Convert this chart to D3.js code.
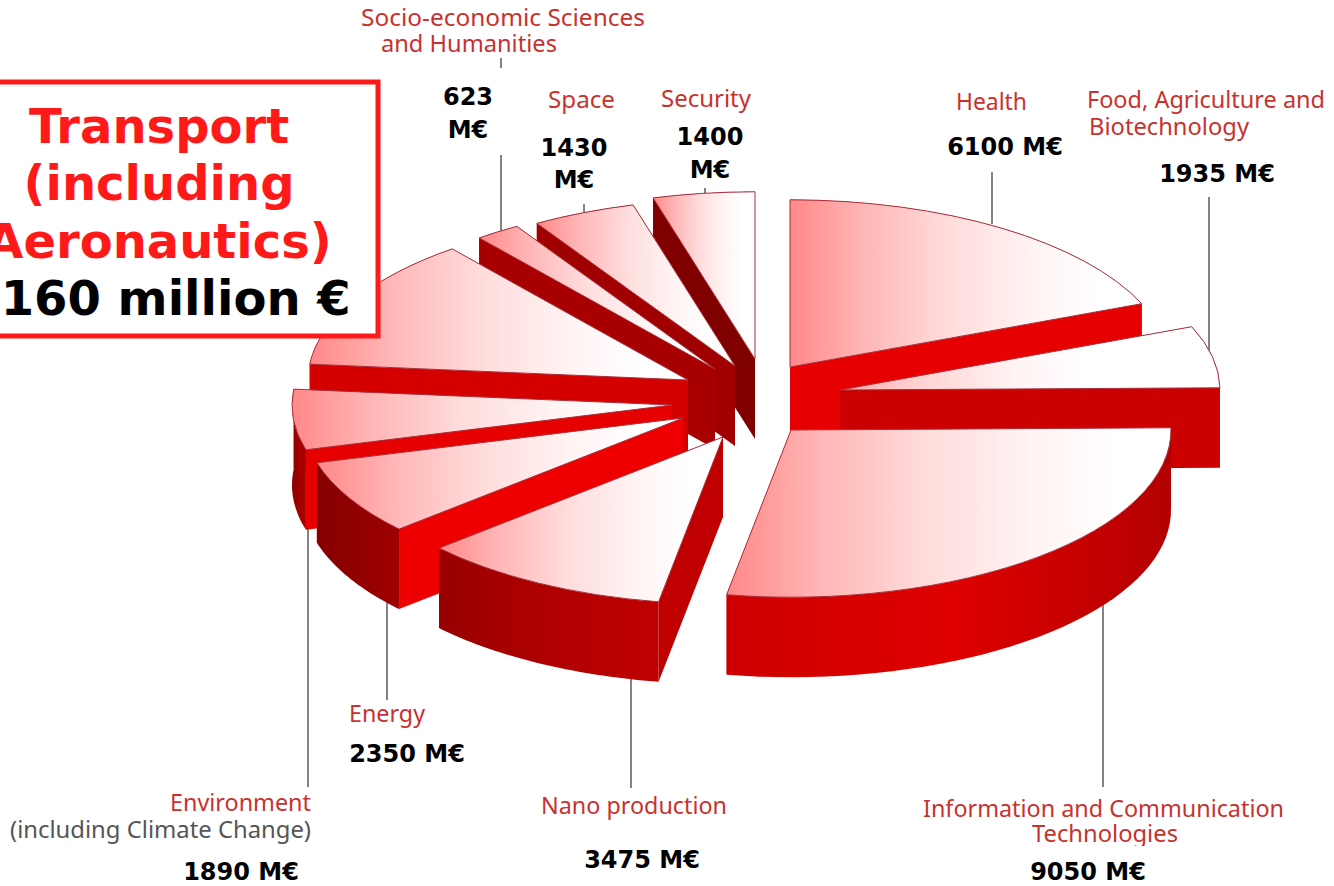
<!DOCTYPE html>
<html>
<head>
<meta charset="utf-8">
<script src="https://cdn.jsdelivr.net/npm/d3@7"></script>
<style>
  body { margin: 0; background: #fff; }
  svg { display: block; }
</style>
</head>
<body>
<div id="chart"></div>
<script>
const categories = ['Health', 'Food', 'ICT', 'Nano', 'Energy', 'Environment', 'Transport', 'Socio', 'Space', 'Security'];
const values = [6100, 1935, 9050, 3475, 2350, 1890, 4160, 623, 1430, 1400];

// how far each slice is pulled out of the pie
const explodeX = [40, 90, 41, -27, -67, -78, -62, -35, -15, 5];
const explodeY = [-33, -10, 30, 37, 18, 5, -20, -31, -34, -41];

// back to front
const drawOrder = ['Security', 'Space', 'Socio', 'Transport', 'Environment', 'Energy', 'Nano', 'Health', 'Food', 'ICT'];

const wallColors = ['#e60000', '#cc0000', '#cc0000', '#c00000', '#ee0000', '#e60000', '#d40000', '#a80000', '#a00000', '#800000'];
const bandColors = [
  ['#e60000', '#e60000', '#e60000'],
  ['#cc0000', '#cc0000', '#cc0000'],
  ['#cc0000', '#e00000', '#b40000'],
  ['#980000', '#b00000', '#c00000'],
  ['#860000', '#920000', '#a00000'],
  ['#900000', '#a00000', '#a80000'],
  ['#d40000', '#d40000', '#d40000'],
  ['#a80000', '#a80000', '#a80000'],
  ['#a00000', '#a00000', '#a00000'],
  ['#800000', '#800000', '#800000']
];

const labelLines = [
  ['Socio-economic Sciences', 361, 26, 284],
  ['and Humanities', 381, 52, 176],
  ['Space', 548, 108, 67],
  ['Security', 661, 107, 90],
  ['Health', 956, 110, 71],
  ['Food, Agriculture and', 1087, 108, 238],
  ['Biotechnology', 1089, 135, 160],
  ['Energy', 349, 722, 76],
  ['Environment', 170, 811, 141],
  ['Nano production', 541, 814, 186],
  ['Information and Communication', 923, 817, 361],
  ['Technologies', 1032, 842, 146]
];

const valueLines = [
  ['623', 468, 105], ['M€', 468, 138],
  ['1430', 574, 156], ['M€', 574, 188],
  ['1400', 710, 145], ['M€', 710, 178],
  ['6100 M€', 1005, 155],
  ['1935 M€', 1217, 182],
  ['2350 M€', 407, 762],
  ['1890 M€', 241, 880],
  ['3475 M€', 642, 868],
  ['9050 M€', 1088, 880]
];

const leaders = [
  [501, 58, 68], [501, 155, 232], [584, 204, 212], [705, 188, 198],
  [992, 172, 224], [1209, 197, 352], [1103, 600, 787],
  [631, 675, 788], [387, 600, 700], [308, 520, 787]
];

const width = 1334;
const height = 886;
const cx = 750;
const cy = 400;
const radius = 380;
const squash = 0.44;
const depth = 80;

const svg = d3.select('#chart')
  .append('svg')
  .attr('width', width)
  .attr('height', height);

const defs = svg.append('defs');

svg.selectAll('.leader')
  .data(leaders)
  .enter()
  .append('line')
  .attr('class', 'leader')
  .attr('x1', d => d[0])
  .attr('x2', d => d[0])
  .attr('y1', d => d[1])
  .attr('y2', d => d[2])
  .attr('stroke', '#5a5a5a')
  .attr('stroke-width', 1.5);

const pie = d3.pie().sort(null);
const arcs = pie(values);
const arcPath = d3.arc().innerRadius(0).outerRadius(radius);
const line = d3.line();

arcs.forEach((a, i) => {
  a.name = categories[i];
  a.ox = cx + explodeX[i];
  a.oy = cy + explodeY[i];
  a.index = i;
});

const project = (a, angle, down) => [
  a.ox + radius * Math.sin(angle),
  a.oy - radius * squash * Math.cos(angle) + down
];

function sideWall(a, angle) {
  return line([
    [a.ox, a.oy],
    project(a, angle, 0),
    project(a, angle, depth),
    [a.ox, a.oy + depth]
  ]) + 'Z';
}

function outerBand(a) {
  const steps = d3.range(0, 41).map(s => a.startAngle + (a.endAngle - a.startAngle) * s / 40);
  const top = steps.map(s => project(a, s, 0));
  const bottom = steps.slice().reverse().map(s => project(a, s, depth));
  return line(top.concat(bottom)) + 'Z';
}

function addGradient(id, stops) {
  defs.append('linearGradient')
    .attr('id', id)
    .selectAll('stop')
    .data(stops)
    .enter()
    .append('stop')
    .attr('offset', d => d[0])
    .attr('stop-color', d => d[1]);
}

addGradient('topFace', [[0, '#ff8888'], [0.2, '#ffb4b4'], [0.45, '#ffdcdc'], [0.7, '#fff4f4'], [0.88, '#ffffff'], [1, '#ffffff']]);
addGradient('topFaceFood', [[0, '#ffa8a8'], [0.2, '#ffd2d2'], [0.45, '#fff2f2'], [0.65, '#ffffff'], [1, '#ffffff']]);

drawOrder.forEach(name => {
  const a = arcs.find(d => d.name === name);
  const i = a.index;
  const g = svg.append('g');

  addGradient('band' + i, [[0, bandColors[i][0]], [0.5, bandColors[i][1]], [1, bandColors[i][2]]]);

  g.append('path').attr('d', sideWall(a, a.startAngle)).attr('fill', wallColors[i]);
  g.append('path').attr('d', sideWall(a, a.endAngle)).attr('fill', wallColors[i]);
  g.append('path').attr('d', outerBand(a)).attr('fill', `url(#band${i})`);

  g.append('path')
    .attr('d', arcPath(a))
    .attr('transform', `translate(${a.ox},${a.oy}) scale(1,${squash})`)
    .attr('fill', name === 'Food' ? 'url(#topFaceFood)' : 'url(#topFace)')
    .attr('stroke', '#a8303c')
    .attr('stroke-width', 1)
    .attr('vector-effect', 'non-scaling-stroke');
});

svg.selectAll('.label')
  .data(labelLines)
  .enter()
  .append('text')
  .attr('class', 'label')
  .attr('x', d => d[1])
  .attr('y', d => d[2])
  .attr('textLength', d => d[3])
  .attr('lengthAdjust', 'spacingAndGlyphs')
  .attr('font-family', '"Noto Sans", sans-serif')
  .attr('font-size', 23)
  .attr('fill', '#c8322e')
  .text(d => d[0]);

svg.append('text')
  .attr('x', 10)
  .attr('y', 838)
  .attr('textLength', 301)
  .attr('lengthAdjust', 'spacingAndGlyphs')
  .attr('font-family', '"Noto Sans", sans-serif')
  .attr('font-size', 23)
  .attr('fill', '#555')
  .text('(including Climate Change)');

// the white patch under the ICT value cuts the tails of "Technologies"
svg.append('rect')
  .attr('x', 1020)
  .attr('y', 846)
  .attr('width', 170)
  .attr('height', 40)
  .attr('fill', '#fff');

svg.selectAll('.value')
  .data(valueLines)
  .enter()
  .append('text')
  .attr('class', 'value')
  .attr('x', d => d[1])
  .attr('y', d => d[2])
  .attr('text-anchor', 'middle')
  .attr('font-family', '"DejaVu Sans", sans-serif')
  .attr('font-weight', 'bold')
  .attr('font-size', 24)
  .attr('fill', '#000')
  .text(d => d[0]);

// Transport call-out runs off the left of the page
svg.append('rect')
  .attr('x', -10)
  .attr('y', 82)
  .attr('width', 388)
  .attr('height', 254)
  .attr('fill', '#fff')
  .attr('stroke', '#ff1a1a')
  .attr('stroke-width', 5);

const callout = [
  ['Transport', 143, '#ff1a1a'],
  ['(including', 200, '#ff1a1a'],
  ['Aeronautics)', 258, '#ff1a1a'],
  ['4160 million €', 315, '#000']
];

svg.selectAll('.callout')
  .data(callout)
  .enter()
  .append('text')
  .attr('class', 'callout')
  .attr('x', 159)
  .attr('y', d => d[1])
  .attr('text-anchor', 'middle')
  .attr('font-family', '"DejaVu Sans", sans-serif')
  .attr('font-weight', 'bold')
  .attr('font-size', 48)
  .attr('fill', d => d[2])
  .text(d => d[0]);
</script>
</body>
</html>
